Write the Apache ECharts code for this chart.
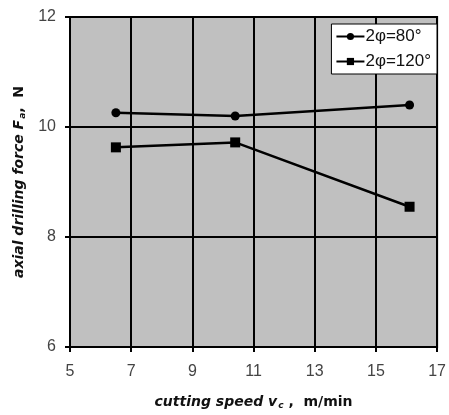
<!DOCTYPE html>
<html><head><meta charset="utf-8">
<script src="https://cdn.jsdelivr.net/npm/echarts@6/dist/echarts.min.js"></script>
<style>html,body{margin:0;padding:0;background:#fff}#c{width:449px;height:415px}</style>
</head><body><div id="c"></div>
<script>
const speeds = [6.5, 10.4, 16.1];
const force80 = [10.26, 10.2, 10.4];
const force120 = [9.63, 9.72, 8.55];
const seriesNames = ['2φ=80°', '2φ=120°'];
const xTicks = {min: 5, max: 17, interval: 2};
const yTicks = {min: 6, max: 12, interval: 2};

const chart = echarts.init(document.getElementById('c'));
const mk = (vals) => speeds.map((x, i) => [x, vals[i]]);
const titleRich = {
  i: {fontFamily: 'DejaVu Sans', fontSize: 14, fontStyle: 'italic', fontWeight: 'bold', color: '#111'},
  sub: {fontFamily: 'DejaVu Sans', fontSize: 9, fontStyle: 'italic', fontWeight: 'bold', color: '#111', verticalAlign: 'bottom', padding: [7, 0, 0, 1]},
  b: {fontFamily: 'DejaVu Sans', fontSize: 14, fontWeight: 'bold', color: '#111'}
};
chart.setOption({
  animation: false,
  grid: {left: 70, right: 9, top: 17, bottom: 65, show: true, backgroundColor: '#c0c0c0', borderColor: '#000', borderWidth: 2},
  legend: {
    right: 12, top: 24, orient: 'vertical', backgroundColor: '#fff', borderColor: '#000', borderWidth: 1,
    padding: [4, 6, 4, 4], itemGap: 8, itemWidth: 28, itemHeight: 9,
    textStyle: {fontFamily: 'Liberation Sans, Arial', fontSize: 17, color: '#111', padding: [0, 0, 0, -4]},
    data: seriesNames
  },
  xAxis: {
    type: 'value', min: xTicks.min, max: xTicks.max, interval: xTicks.interval,
    axisLine: {show: true, lineStyle: {color: '#000', width: 2}},
    axisTick: {show: true, length: 5, lineStyle: {color: '#000', width: 2}},
    splitLine: {show: true, lineStyle: {color: '#000', width: 2}},
    axisLabel: {fontFamily: 'Liberation Sans, Arial', fontSize: 16, color: '#444', margin: 17},
    name: '{i|cutting speed }{i|v}{sub|c}{b| ,  m/min}',
    nameLocation: 'middle', nameGap: 47,
    nameTextStyle: {rich: titleRich}
  },
  yAxis: {
    type: 'value', min: yTicks.min, max: yTicks.max, interval: yTicks.interval,
    axisLine: {show: true, lineStyle: {color: '#000', width: 2}},
    axisTick: {show: true, length: 5, lineStyle: {color: '#000', width: 2}},
    splitLine: {show: true, lineStyle: {color: '#000', width: 2}},
    axisLabel: {fontFamily: 'Liberation Sans, Arial', fontSize: 16, color: '#444', margin: 14},
    name: '{i|axial drilling force }{i|F}{sub|a}{b|,  N}',
    nameLocation: 'middle', nameGap: 42, nameRotate: 90,
    nameTextStyle: {rich: titleRich}
  },
  series: [
    {name: seriesNames[0], type: 'line', data: mk(force80), symbol: 'circle', symbolSize: 9,
     lineStyle: {color: '#000', width: 2.5}, itemStyle: {color: '#000'}},
    {name: seriesNames[1], type: 'line', data: mk(force120), symbol: 'rect', symbolSize: 10,
     lineStyle: {color: '#000', width: 2.5}, itemStyle: {color: '#000'}}
  ]
});
</script></body></html>
